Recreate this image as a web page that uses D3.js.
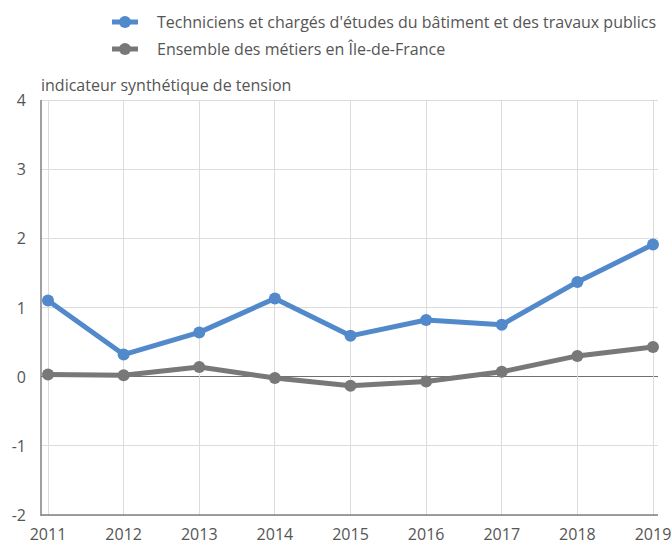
<!DOCTYPE html>
<html><head><meta charset="utf-8">
<script src="https://cdn.jsdelivr.net/npm/d3@7"></script>
<style>body{margin:0;background:#fff}svg{font-family:"Open Sans",sans-serif}</style>
</head><body><svg id="c" width="671" height="545"></svg>
<script>
const years = [2011,2012,2013,2014,2015,2016,2017,2018,2019];
const seriesNames = ["Techniciens et chargés d'études du bâtiment et des travaux publics","Ensemble des métiers en Île-de-France"];
const techValues = [1.10,0.32,0.64,1.13,0.59,0.82,0.75,1.37,1.91];
const allValues = [0.03,0.02,0.14,-0.02,-0.13,-0.07,0.07,0.30,0.43];
const yTicks = [-2,-1,0,1,2,3,4];
const colors = ["#5189cb","#777877"];
const yTitle = "indicateur synthétique de tension";

const svg = d3.select("#c");
const x = d3.scaleLinear().domain([2011,2019]).range([48,653]);
const y = d3.scaleLinear().domain([-2,4]).range([515,100]);
const left = 41, right = 658;

svg.append("g").selectAll("line").data(yTicks).join("line")
  .attr("x1",left).attr("x2",right).attr("y1",d=>y(d)).attr("y2",d=>y(d))
  .attr("stroke",d=>d===0?"#707070":"#dcdcdc").attr("stroke-width",1)
  .attr("shape-rendering","crispEdges");
svg.append("g").selectAll("line").data(years).join("line")
  .attr("x1",d=>x(d)).attr("x2",d=>x(d)).attr("y1",y(4)).attr("y2",y(-2))
  .attr("stroke","#dcdcdc").attr("shape-rendering","crispEdges");
svg.append("line").attr("x1",left).attr("x2",left).attr("y1",y(4)).attr("y2",y(-2)+1)
  .attr("stroke","#808080").attr("stroke-width",1.5);
svg.append("line").attr("x1",left).attr("x2",right).attr("y1",y(-2)).attr("y2",y(-2))
  .attr("stroke","#808080").attr("stroke-width",1.5);

svg.append("g").selectAll("text").data(yTicks).join("text")
  .attr("x",26).attr("y",d=>y(d)+6).attr("text-anchor","end")
  .attr("font-size",16).attr("fill","#555").text(d=>d);
svg.append("g").selectAll("text").data(years).join("text")
  .attr("x",d=>x(d)).attr("y",540).attr("text-anchor","middle")
  .attr("font-size",16).attr("fill","#555").text(d=>d);
svg.append("text").attr("x",41).attr("y",91).attr("font-size",16).attr("fill","#555").text(yTitle);

const line = d3.line().x((d,i)=>x(years[i])).y(d=>y(d));
[allValues, techValues].forEach((vals,k)=>{
  const c = k===0?colors[1]:colors[0];
  svg.append("path").datum(vals).attr("d",line).attr("fill","none")
    .attr("stroke",c).attr("stroke-width",5).attr("stroke-linejoin","round");
  svg.append("g").selectAll("circle").data(vals).join("circle")
    .attr("cx",(d,i)=>x(years[i])).attr("cy",d=>y(d)).attr("r",6).attr("fill",c);
});

seriesNames.forEach((n,i)=>{
  const ly = 22 + i*27;
  const g = svg.append("g");
  g.append("line").attr("x1",112).attr("x2",138).attr("y1",ly).attr("y2",ly)
    .attr("stroke",colors[i]).attr("stroke-width",5);
  g.append("circle").attr("cx",125).attr("cy",ly).attr("r",6).attr("fill",colors[i]);
  g.append("text").attr("x",157).attr("y",ly+6).attr("font-size",16).attr("fill","#555").text(n);
});
</script></body></html>
